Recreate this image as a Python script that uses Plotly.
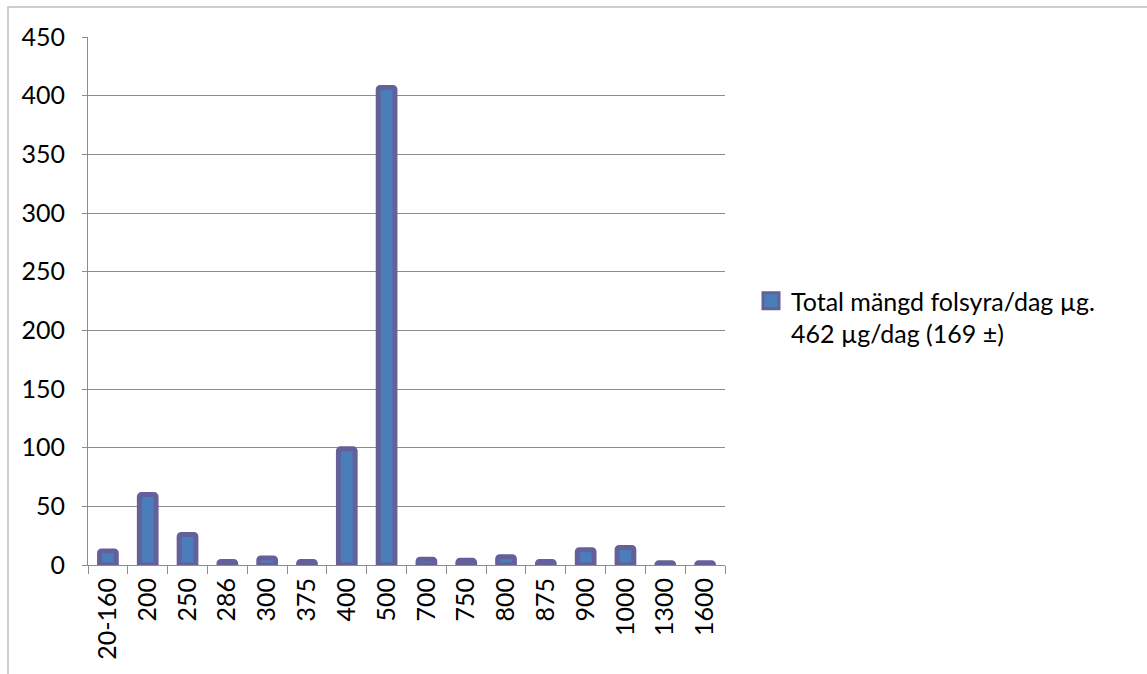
import plotly.graph_objects as go

# Folic acid dose categories (µg/day) and number of respondents per category
doses = ["20-160", "200", "250", "286", "300", "375", "400", "500",
         "700", "750", "800", "875", "900", "1000", "1300", "1600"]
counts = [12, 60, 26, 3, 6, 3, 99, 407, 5, 4, 7, 3, 13, 15, 2, 2]

series_name = "Total mängd folsyra/dag µg.<br>462 µg/dag (169 ±)"
y_ticks = list(range(0, 451, 50))

BAR_FILL = "#4A7EBB"
BAR_EDGE = "#64609A"
GRID = "#8C8C8C"
FONT = "Lato, Carlito, Calibri, sans-serif"
FS = 25

W, H = 1147, 674
L, R, T, B = 88, 422, 37, 109
pw, ph = W - L - R, H - T - B


def px_x(x):
    return (x - L) / pw


def px_y(y):
    return (H - B - y) / ph


fig = go.Figure()

fig.add_trace(go.Bar(
    x=doses, y=counts, width=0.42,
    marker=dict(color=BAR_FILL, line=dict(color=BAR_EDGE, width=5), cornerradius=2),
    showlegend=False,
))

# legend entry with a larger square swatch
fig.add_trace(go.Scatter(
    x=[None], y=[None], mode="markers", name=series_name,
    marker=dict(symbol="square", size=17, color=BAR_FILL,
                line=dict(color=BAR_EDGE, width=3)),
))

fig.update_layout(
    width=W, height=H,
    margin=dict(l=L, r=R, t=T, b=B, pad=0),
    paper_bgcolor="white", plot_bgcolor="white",
    font=dict(family=FONT, size=FS, color="black"),
    legend=dict(x=px_x(751), y=px_y(278), xanchor="left", yanchor="top",
                valign="top",
                font=dict(family=FONT, size=FS, color="black"),
                itemwidth=30, tracegroupgap=0, bgcolor="rgba(0,0,0,0)"),
    xaxis=dict(
        type="category", range=[-0.5, len(doses) - 0.5],
        showline=True, linecolor=GRID, linewidth=1,
        ticks="outside", ticklen=8, tickcolor=GRID, tickson="boundaries",
        tickangle=-90, showgrid=False, zeroline=False,
        ticklabelstandoff=2,
        tickfont=dict(family=FONT, size=FS, color="black"),
    ),
    yaxis=dict(
        range=[0, 450], tickvals=y_ticks,
        showline=True, linecolor=GRID, linewidth=1,
        ticks="outside", ticklen=5, tickcolor=GRID,
        showgrid=True, gridcolor=GRID, gridwidth=1, zeroline=False,
        ticklabelstandoff=12,
        tickfont=dict(family=FONT, size=FS, color="black"),
    ),
    shapes=[dict(type="rect", xref="paper", yref="paper",
                 x0=px_x(8), x1=px_x(1160), y0=px_y(7), y1=px_y(690),
                 line=dict(color="#BFBFBF", width=1.5), layer="below")],
)

fig.write_html("out.html")
